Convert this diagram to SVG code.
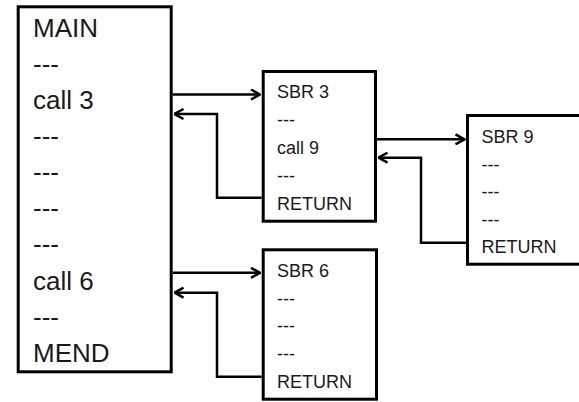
<svg xmlns="http://www.w3.org/2000/svg" width="579" height="402" viewBox="0 0 579 402">
<style>
.box{fill:#fff;stroke:#000;stroke-width:3}
.big{font-family:"Liberation Sans",Arial,sans-serif;font-size:26px;fill:#1a1a1a}
.sm{font-family:"Liberation Sans",Arial,sans-serif;font-size:18px;fill:#1a1a1a}
.con{fill:none;stroke:#000;stroke-width:2.5;marker-end:url(#ah)}
</style>
<defs>
<marker id="ah" viewBox="0 0 12 12" refX="11" refY="6" markerWidth="12" markerHeight="12" markerUnits="userSpaceOnUse" orient="auto">
<polyline points="2,1 11,6 2,11" fill="none" stroke="#000" stroke-width="2.5"/>
</marker>
</defs>
<g id="main">
<rect class="box" x="18.2" y="6.8" width="153" height="365"/>
<text class="big" x="33" y="37">MAIN</text>
<text class="big" x="33" y="73">---</text>
<text class="big" x="33" y="109">call 3</text>
<text class="big" x="33" y="145">---</text>
<text class="big" x="33" y="181">---</text>
<text class="big" x="33" y="217">---</text>
<text class="big" x="33" y="253">---</text>
<text class="big" x="33" y="290">call 6</text>
<text class="big" x="33" y="326">---</text>
<text class="big" x="33" y="362">MEND</text>
</g>
<g id="sbr3">
<rect class="box" x="263.2" y="71.5" width="112.3" height="149.7"/>
<text class="sm" x="277" y="98">SBR 3</text>
<text class="sm" x="277" y="126">---</text>
<text class="sm" x="277" y="154">call 9</text>
<text class="sm" x="277" y="182">---</text>
<text class="sm" x="277" y="210">RETURN</text>
</g>
<g id="sbr9">
<rect class="box" x="467.5" y="115.5" width="120" height="148.7"/>
<text class="sm" x="481.5" y="143">SBR 9</text>
<text class="sm" x="481.5" y="170.5">---</text>
<text class="sm" x="481.5" y="198">---</text>
<text class="sm" x="481.5" y="225.5">---</text>
<text class="sm" x="481.5" y="253">RETURN</text>
</g>
<g id="sbr6">
<rect class="box" x="263.2" y="249.8" width="113.3" height="149.4"/>
<text class="sm" x="277" y="277">SBR 6</text>
<text class="sm" x="277" y="304.7">---</text>
<text class="sm" x="277" y="332.4">---</text>
<text class="sm" x="277" y="360">---</text>
<text class="sm" x="277" y="387.7">RETURN</text>
</g>
<g id="connectors">
<path class="con" d="M172.7,94.5 H260"/>
<path class="con" d="M261.7,197.7 H217 V114 H174.5"/>
<path class="con" d="M377,139.3 H464.5"/>
<path class="con" d="M466,242.7 H421 V157.7 H378.5"/>
<path class="con" d="M172.7,272.8 H260"/>
<path class="con" d="M261.7,376.7 H217 V292.7 H174.5"/>
</g>
</svg>
